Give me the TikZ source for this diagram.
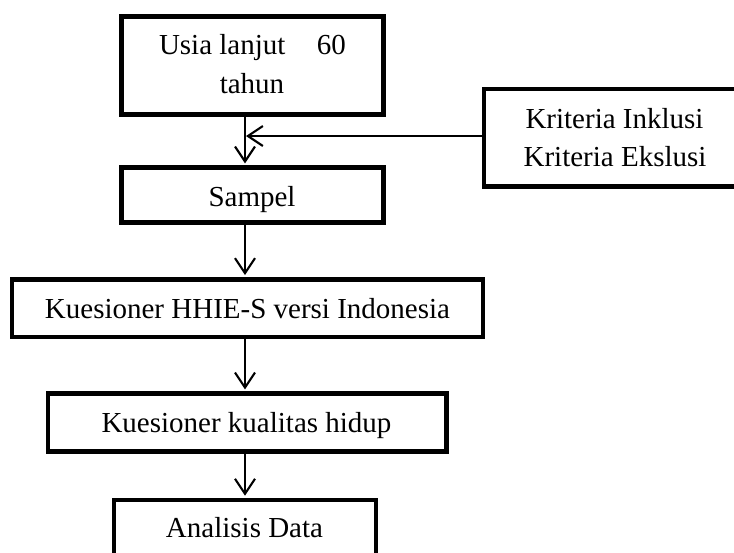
\documentclass[tikz,border=0pt]{standalone}
\usepackage{fontspec}
\setmainfont{Liberation Serif}
\usetikzlibrary{arrows.meta}
\begin{document}
\begin{tikzpicture}[x=1pt,y=1pt,
  box/.style={draw=black,line width=4.6pt,rectangle,inner sep=0pt,fill=none},
  txt/.style={anchor=base,inner sep=0pt,font=\fontsize{29}{35}\selectfont},
  conn/.style={draw=black,line width=2.1pt,-{Straight Barb[length=15pt,width=20pt]},shorten >=2pt}]
\useasboundingbox (0,0) rectangle (734,-552);
\clip (0,0) rectangle (734,-552);
\fill[white] (0,0) rectangle (734,-552);
\coordinate (axis) at (245,0);
% boxes
\node[box,minimum width=262pt,minimum height=98pt] (usia) at (252.7,-65.3) {};
\node[box,minimum width=262pt,minimum height=54.6pt] (sampel) at (252.7,-195) {};
\node[box,minimum width=276pt,minimum height=97.7pt] (krit) at (621.8,-137.8) {};
\node[box,minimum width=471pt,minimum height=57.7pt] (hhie) at (247.5,-308.2) {};
\node[box,minimum width=398.4pt,minimum height=57.5pt] (kual) at (247,-422.5) {};
\node[box,minimum width=262pt,minimum height=60pt] (anal) at (245,-530) {};
% texts
\node[txt] (t1) at (252.5,-54.3) {Usia lanjut\hspace{31.5pt}60};
\node[txt] (t2) at (252,-93.3) {tahun};
\node[txt] (t3) at (614.5,-128.3) {Kriteria Inklusi};
\node[txt] (t4) at (615,-166.7) {Kriteria Ekslusi};
\node[txt] (t5) at (252,-206) {Sampel};
\node[txt] (t6) at (247.5,-318.3) {Kuesioner HHIE-S versi Indonesia};
\node[txt] (t7) at (246.5,-432.3) {Kuesioner kualitas hidup};
\node[txt] (t8) at (244.5,-537.7) {Analisis Data};
% connectors
\coordinate (join) at (246,-136);
\draw[conn] (usia.south -| axis) -- (sampel.north -| axis);
\draw[conn,shorten >=0pt] (krit.west |- join) -- (join);
\draw[conn] (sampel.south -| axis) -- (hhie.north -| axis);
\draw[conn] (hhie.south -| axis) -- (kual.north -| axis);
\draw[conn] (kual.south -| axis) -- (anal.north -| axis);
\end{tikzpicture}
\end{document}
